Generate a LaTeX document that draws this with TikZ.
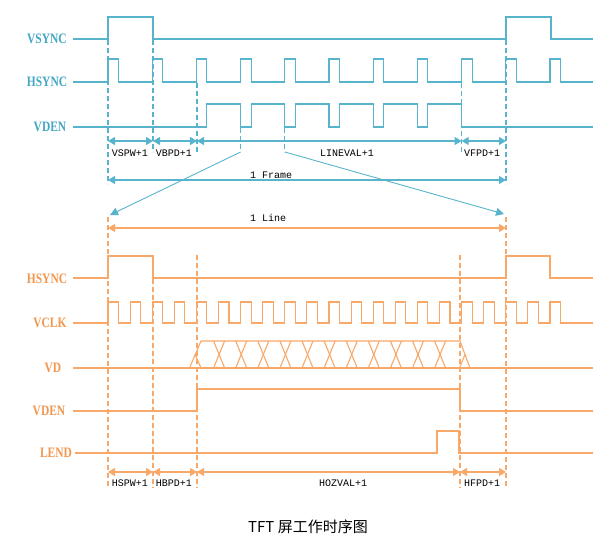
\documentclass[tikz,border=0pt]{standalone}
\usepackage{fontspec}
\setmainfont{Liberation Serif}
\newfontfamily\monof{Liberation Mono}
\newfontfamily\cjk{Noto Sans CJK SC}
\usetikzlibrary{arrows.meta}
\definecolor{tealL}{RGB}{88,180,205}
\definecolor{tealT}{RGB}{66,166,196}
\definecolor{oraL}{RGB}{248,168,105}
\definecolor{oraT}{RGB}{242,150,78}
\tikzset{
  tl/.style={draw=tealL,line width=1.1pt},
  ol/.style={draw=oraL,line width=1.1pt},
  tdash/.style={draw=tealL,line width=1.2pt,dash pattern=on 5pt off 3pt},
  odash/.style={draw=oraL,line width=1.2pt,dash pattern=on 5pt off 3pt},
  tarr/.style={draw=tealL,line width=1.1pt,{Triangle[length=7pt,width=8pt]}-{Triangle[length=7pt,width=8pt]}},
  oarr/.style={draw=oraL,line width=1.1pt,{Triangle[length=7pt,width=8pt]}-{Triangle[length=7pt,width=8pt]}},
  tslant/.style={draw=tealL,line width=0.9pt,-{Triangle[length=8pt,width=8pt]}},
  tlab/.style={text=tealT,font=\bfseries\fontsize{11.5}{12}\selectfont,inner sep=0pt},
  olab/.style={text=oraT,font=\bfseries\fontsize{11.5}{12}\selectfont,inner sep=0pt},
  mlab/.style={text=black,font=\monof\fontsize{10}{11}\selectfont,inner sep=0pt},
}
\begin{document}
\begin{tikzpicture}[x=1pt,y=-1pt]
\useasboundingbox (0,0) rectangle (610,544);
% ---------- top (teal) section ----------
\node[tlab] (lvsync) at (47,39) {\scalebox{1}[1.25]{VSYNC}};
\node[tlab] (lhsync) at (47,82) {\scalebox{1}[1.25]{HSYNC}};
\node[tlab] (lvden) at (50,127) {\scalebox{1}[1.25]{VDEN}};
% VSYNC
\draw[tl] (73,39) -- (108,39) -- (108,17) -- (153,17) -- (153,39) -- (506,39) -- (506,17) -- (551,17) -- (551,39) -- (593,39);
% HSYNC
\draw[tl] (73,82) foreach \k in {0,...,10}{ -- ({108+44.2*\k},82) -- ({108+44.2*\k},59) -- ({118.5+44.2*\k},59) -- ({118.5+44.2*\k},82)} -- (593,82);
% VDEN
\draw[tl] (73,127) -- (206.9,127) -- (206.9,104) foreach \k in {3,...,7}{ -- ({108+44.2*\k},104) -- ({108+44.2*\k},127) -- ({118.5+44.2*\k},127) -- ({118.5+44.2*\k},104)} -- (461.6,104) -- (461.6,127) -- (593,127);
% dashed guides
\draw[tdash] (108,40) -- (108,184);
\draw[tdash] (153,40) -- (153,152);
\draw[tdash] (197,83) -- (197,152);
\draw[tdash] (461.6,83) -- (461.6,152);
\draw[tdash] (506,40) -- (506,184);
\coordinate (c1) at (240.6,152);
\coordinate (c2) at (284.8,152);
\draw[tdash] (240.6,128) -- (c1);
\draw[tdash] (284.8,128) -- (c2);
\coordinate (z1) at (110,215);
\coordinate (z2) at (504,214);
\draw[tslant] (c1) -- (z1);
\draw[tslant] (c2) -- (z2);
% measurement arrows
\coordinate (a0) at (108,141);
\coordinate (a1) at (153,141);
\coordinate (a2) at (197,141);
\coordinate (a3) at (461.6,141);
\coordinate (a4) at (506,141);
\draw[tarr] (a0) -- (a1);
\draw[tarr] (a1) -- (a2);
\draw[tarr] (a2) -- (a3);
\draw[tarr] (a3) -- (a4);
\node[mlab] (lvspw) at (130,153) {VSPW+1};
\node[mlab] (lvbpd) at (174,153) {VBPD+1};
\node[mlab] (llineval) at (347,153) {LINEVAL+1};
\node[mlab] (lvfpd) at (482,153) {VFPD+1};
\coordinate (f0) at (108,180);
\coordinate (f1) at (506,180);
\draw[tarr] (f0) -- (f1);
\node[mlab] (lframe) at (271,175) {1 Frame};
% ---------- bottom (orange) section ----------
\coordinate (g0) at (108,228);
\coordinate (g1) at (506,228);
\draw[oarr] (g0) -- (g1);
\node[mlab] (lline) at (268,218) {1 Line};
\node[olab] (lhs2) at (47,279) {\scalebox{1}[1.25]{HSYNC}};
\node[olab] (lvclk) at (50,323) {\scalebox{1}[1.25]{VCLK}};
\node[olab] (lvd) at (53,368) {\scalebox{1}[1.25]{VD}};
\node[olab] (lvden2) at (49,411) {\scalebox{1}[1.25]{VDEN}};
\node[olab] (llend) at (56,453) {\scalebox{1}[1.25]{LEND}};
% HSYNC
\draw[ol] (73,278) -- (108,278) -- (108,256) -- (153,256) -- (153,278) -- (506,278) -- (506,256) -- (550,256) -- (550,278) -- (593,278);
% VCLK
\draw[ol] (73,323) foreach \k in {0,...,20}{ -- ({108+22.1*\k},323) -- ({108+22.1*\k},302) -- ({118.5+22.1*\k},302) -- ({118.5+22.1*\k},323)} -- (593,323);
% VD bus
\draw[ol] (73,368) -- (593,368);
\draw[ol] (189.5,368) -- (201,341) -- (460,341) -- (470,368);
\draw[ol] (195.2,354.5) -- (201,368);
\draw[ol] (465,354.5) -- (459.5,368);
\foreach \k in {1,...,11}{
  \draw[ol] ({197+22.1*\k-5.5},341) -- ({197+22.1*\k+5.5},368);
  \draw[ol] ({197+22.1*\k-5.5},368) -- ({197+22.1*\k+5.5},341);
}
% VDEN
\draw[ol] (73,411) -- (197,411) -- (197,389) -- (460,389) -- (460,411) -- (593,411);
% LEND
\draw[ol] (75,453) -- (437,453) -- (437,431) -- (459,431) -- (459,453) -- (593,453);
% dashed guides
\draw[odash] (108,217) -- (108,488);
\draw[odash] (153,279) -- (153,488);
\draw[odash] (197,255) -- (197,488);
\draw[odash] (460,255) -- (460,488);
\draw[odash] (506,217) -- (506,488);
% measurement arrows
\coordinate (b0) at (108,472);
\coordinate (b1) at (153,472);
\coordinate (b2) at (197,472);
\coordinate (b3) at (460,472);
\coordinate (b4) at (506,472);
\draw[oarr] (b0) -- (b1);
\draw[oarr] (b1) -- (b2);
\draw[oarr] (b2) -- (b3);
\draw[oarr] (b3) -- (b4);
\node[mlab] (lhspw) at (130,483) {HSPW+1};
\node[mlab] (lhbpd) at (174,483) {HBPD+1};
\node[mlab] (lhozval) at (343,483) {HOZVAL+1};
\node[mlab] (lhfpd) at (482,483) {HFPD+1};
% caption
\node[inner sep=0pt,font=\cjk\fontsize{15}{16}\selectfont] (cap) at (308,527) {TFT 屏工作时序图};
\end{tikzpicture}
\end{document}
